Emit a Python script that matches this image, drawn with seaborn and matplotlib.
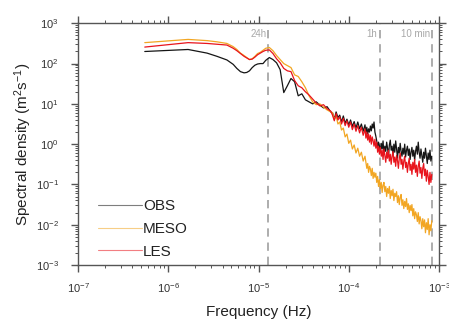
import numpy as np
import pandas as pd
import matplotlib
matplotlib.use("Agg")
import matplotlib.pyplot as plt
import matplotlib.ticker as mticker
from matplotlib.lines import Line2D
import seaborn as sns

# log10 of frequency (Hz)
log_freq = [-6.26, -5.78, -5.57, -5.46, -5.35, -5.28, -5.24, -5.20, -5.16, -5.13, -5.10, -5.07,
            -5.04, -5.01, -4.98, -4.95, -4.92,
            -4.88, -4.84, -4.80, -4.76, -4.72, -4.68, -4.64, -4.60, -4.56, -4.52, -4.48, -4.44,
            -4.40, -4.36, -4.32, -4.28, -4.24, -4.20,
            -4.18, -4.16, -4.14, -4.12, -4.10, -4.08, -4.06, -4.04, -4.02, -4.00,
            -3.98, -3.96, -3.94, -3.92, -3.90, -3.88, -3.86, -3.84, -3.82,
            -3.81, -3.80, -3.79, -3.78, -3.77, -3.76, -3.75, -3.74, -3.73, -3.72,
            -3.71, -3.70, -3.69, -3.68, -3.67, -3.66, -3.65, -3.64, -3.63, -3.62,
            -3.61, -3.60, -3.59, -3.58, -3.57, -3.56, -3.55, -3.54, -3.53, -3.52,
            -3.51, -3.50, -3.49, -3.48, -3.47, -3.46, -3.45, -3.44, -3.43, -3.42,
            -3.41, -3.40, -3.39, -3.38, -3.37, -3.36, -3.35, -3.34, -3.33, -3.32,
            -3.31, -3.30, -3.29, -3.28, -3.27, -3.26, -3.25, -3.24, -3.23, -3.22,
            -3.21, -3.20, -3.19, -3.18, -3.17, -3.16, -3.15, -3.14, -3.13, -3.12,
            -3.11, -3.10, -3.09, -3.08]

# log10 of spectral density (m^2 s^-1)
obs_log = [2.30, 2.35, 2.26, 2.18, 2.09, 1.98, 1.88, 1.80, 1.77, 1.78, 1.82, 1.90,
           1.96, 1.99, 2.00, 2.00, 2.08,
           2.15, 2.10, 2.02, 1.85, 1.28, 1.45, 1.63, 1.55, 1.20, 1.25, 1.10, 1.05,
           1.00, 1.05, 0.97, 0.90, 0.93, 0.80,
           0.78, 0.62, 0.80, 0.66, 0.72, 0.55, 0.70, 0.52, 0.62, 0.48,
           0.60, 0.44, 0.56, 0.40, 0.55, 0.38, 0.50, 0.32, 0.48,
           0.28, 0.42, 0.25, 0.38, 0.30, 0.45, 0.33, 0.50, 0.40, 0.55,
           0.30, 0.20, 0.08, -0.10, 0.05, -0.05, -0.20, 0.02, -0.12, 0.08,
           -0.25, -0.05, -0.18, 0.05, -0.10, -0.30, -0.02, 0.10, -0.15, -0.05,
           -0.28, 0.00, -0.20, 0.08, -0.12, -0.35, -0.08, -0.22, 0.02, -0.18,
           -0.30, -0.10, -0.25, 0.00, -0.32, -0.15, -0.05, -0.28, -0.12, -0.38,
           -0.20, -0.08, -0.30, -0.15, -0.40, -0.18, -0.05, -0.25, 0.05, -0.20,
           -0.35, -0.12, -0.28, -0.45, -0.20, -0.35, -0.10, -0.30, -0.48, -0.22,
           -0.38, -0.15, -0.42, -0.30]

meso_log = [2.52, 2.60, 2.57, 2.54, 2.50, 2.42, 2.35, 2.26, 2.20, 2.15, 2.10, 2.12,
            2.18, 2.25, 2.28, 2.33, 2.38,
            2.40, 2.32, 2.20, 2.10, 2.00, 1.95, 1.90, 1.72, 1.68, 1.55, 1.40, 1.20,
            1.05, 0.98, 1.00, 0.92, 0.85, 0.80,
            0.78, 0.62, 0.70, 0.50, 0.55, 0.35, 0.40, 0.18, 0.25, 0.02,
            0.10, -0.12, -0.02, -0.22, -0.10, -0.30, -0.20, -0.42, -0.30,
            -0.45, -0.60, -0.48, -0.70, -0.55, -0.62, -0.78, -0.60, -0.85, -0.70,
            -0.82, -0.72, -0.95, -0.80, -1.05, -0.88, -1.10, -0.95, -1.20, -1.02,
            -0.95, -1.18, -1.05, -1.30, -1.10, -1.22, -1.05, -1.35, -1.15, -1.28,
            -1.12, -1.40, -1.22, -1.30, -1.18, -1.45, -1.28, -1.50, -1.32, -1.25,
            -1.52, -1.38, -1.60, -1.42, -1.55, -1.35, -1.62, -1.48, -1.70, -1.52,
            -1.65, -1.50, -1.78, -1.60, -1.85, -1.68, -1.75, -1.92, -1.70, -1.98,
            -1.80, -1.90, -2.10, -1.85, -2.05, -1.88, -2.20, -1.95, -2.12, -1.85,
            -2.25, -2.00, -2.15, -1.90]

les_log = [2.41, 2.52, 2.50, 2.48, 2.46, 2.38, 2.32, 2.25, 2.18, 2.14, 2.10, 2.11,
           2.16, 2.22, 2.26, 2.30, 2.33,
           2.34, 2.25, 2.12, 2.02, 1.88, 1.82, 1.80, 1.58, 1.45, 1.40, 1.30, 1.22,
           1.12, 1.02, 0.95, 0.98, 0.88, 0.82,
           0.72, 0.58, 0.76, 0.60, 0.68, 0.50, 0.64, 0.46, 0.58, 0.42,
           0.55, 0.36, 0.50, 0.32, 0.46, 0.28, 0.42, 0.22, 0.38,
           0.15, 0.30, 0.10, 0.25, 0.05, 0.22, 0.00, 0.18, 0.08, -0.05,
           0.12, -0.10, 0.05, -0.20, -0.05, -0.25, -0.08, -0.30, -0.15, -0.38,
           -0.12, -0.28, -0.45, -0.20, -0.35, -0.15, -0.42, -0.25, -0.50, -0.30,
           -0.18, -0.45, -0.32, -0.55, -0.28, -0.40, -0.60, -0.35, -0.22, -0.50,
           -0.38, -0.62, -0.42, -0.30, -0.58, -0.45, -0.70, -0.48, -0.35, -0.65,
           -0.50, -0.75, -0.45, -0.62, -0.38, -0.70, -0.52, -0.80, -0.55, -0.42,
           -0.72, -0.58, -0.85, -0.60, -0.48, -0.78, -0.62, -0.92, -0.65, -0.80,
           -1.00, -0.70, -0.95, -0.75]

series_names = ["OBS", "MESO", "LES"]
series_colors = ["#151515", "#f2a623", "#e8141c"]
period_labels = ["24h", "1h", "10 min"]
period_freqs = [1.29e-5, 2.2e-4, 8.35e-4]

assert len(obs_log) == len(meso_log) == len(les_log) == len(log_freq)

freq = 10 ** np.array(log_freq)
frames = []
for name, vals in zip(series_names, [obs_log, meso_log, les_log]):
    frames.append(pd.DataFrame({"Frequency": freq, "Density": 10 ** np.array(vals), "Series": name}))
df = pd.concat(frames, ignore_index=True)

sns.set_theme(style="white")
plt.rcParams["font.family"] = ["Liberation Sans", "DejaVu Sans"]
plt.rcParams["mathtext.fontset"] = "custom"
plt.rcParams["mathtext.rm"] = "Liberation Sans"
plt.rcParams["mathtext.it"] = "Liberation Sans:italic"

fig = plt.figure(figsize=(4.49, 3.2), dpi=100)
ax = fig.add_axes([78 / 449, 1 - 265 / 320, (439 - 78) / 449, (265 - 23.3) / 320])

sns.lineplot(data=df, x="Frequency", y="Density", hue="Series", hue_order=series_names,
             palette=dict(zip(series_names, series_colors)), estimator=None, sort=True,
             linewidth=0.9, ax=ax, legend=False)

ax.set_xscale("log")
ax.set_yscale("log")
ax.set_xlim(1e-7, 1e-3)
ax.set_ylim(1e-3, 1e3)

for lab, f in zip(period_labels, period_freqs):
    ax.axvline(f, color="#a0a0a0", lw=1.2, ls=(0, (5, 3.5)), zorder=1)
    ax.text(f / 1.06, 0.955, lab, transform=ax.get_xaxis_transform(), ha="right", va="center",
            fontsize=7, color="#a8a8a8")

handles = [Line2D([], [], color=c, lw=0.8, alpha=0.55) for c in series_colors]
leg = ax.legend(handles, series_names, loc="lower left", bbox_to_anchor=(0.03, -0.012),
                frameon=False, fontsize=11, handlelength=2.9, handletextpad=0.05,
                labelspacing=0.58, borderaxespad=0.2)
for t in leg.get_texts():
    t.set_color("#222222")

ax.set_xlabel("Frequency (Hz)", fontsize=11, color="#222222", labelpad=7)
ax.set_ylabel("Spectral density (m$^2$s$^{-1}$)", fontsize=11, color="#222222", labelpad=1)

ax.xaxis.set_major_locator(mticker.LogLocator(base=10, numticks=10))
ax.yaxis.set_major_locator(mticker.LogLocator(base=10, numticks=10))
ax.xaxis.set_minor_locator(mticker.LogLocator(base=10, subs=np.arange(2, 10), numticks=20))
ax.yaxis.set_minor_locator(mticker.LogLocator(base=10, subs=np.arange(2, 10), numticks=20))
ax.yaxis.set_minor_formatter(mticker.NullFormatter())
ax.xaxis.set_minor_formatter(mticker.NullFormatter())

ax.tick_params(which="both", direction="out", top=True, right=True, bottom=True, left=True,
               color="#555555", labelcolor="#333333")
ax.tick_params(which="major", length=5, width=1.0, labelsize=8)
ax.tick_params(axis="x", which="major", pad=7)
ax.tick_params(axis="y", which="major", pad=9)
ax.tick_params(which="minor", length=2.5, width=0.7)
for s in ax.spines.values():
    s.set_color("#555555")
    s.set_linewidth(1.0)
    s.set_visible(True)

fig.savefig("out.png", dpi=100)
